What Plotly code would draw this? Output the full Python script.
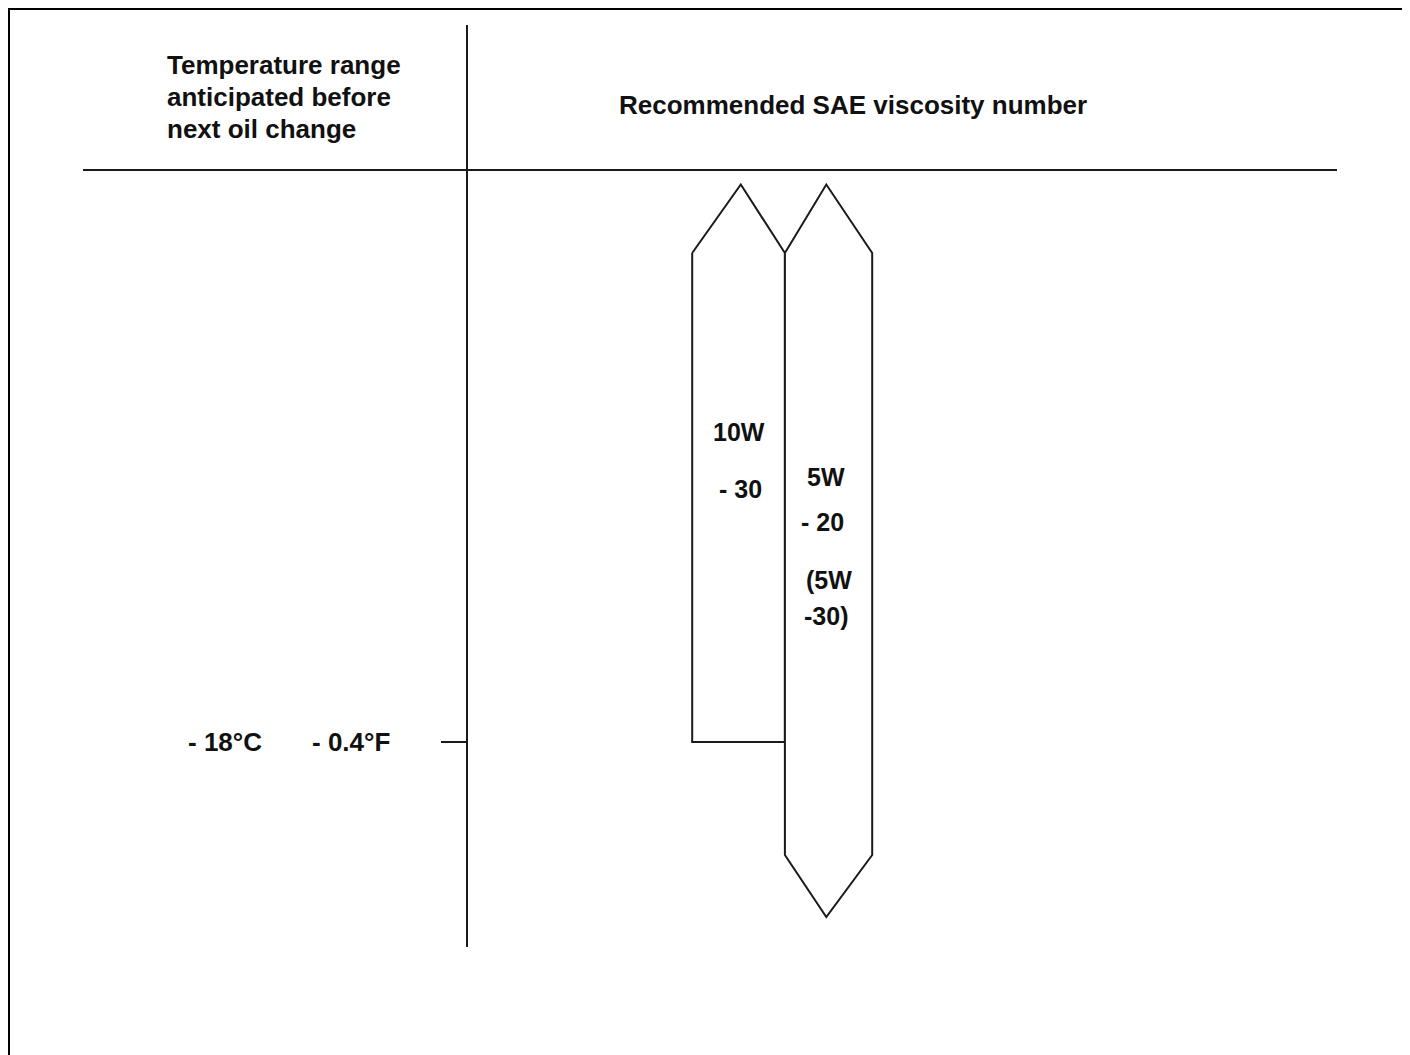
import plotly.graph_objects as go

# ---------------- data ----------------
grades = ["10W-30", "5W-20 (5W-30)"]
grade_label_lines = [["10W", "- 30"], ["5W", "- 20", "(5W", "-30)"]]
min_temp_c = [-18, None]      # None -> no lower limit (open arrow)
max_temp_c = [None, None]     # None -> no upper limit (open arrow)
tick_temps_c = [-18]
tick_temps_f = [-0.4]
tick_labels_c = ["- 18°C"]
tick_labels_f = ["- 0.4°F"]
header_left = ["Temperature range", "anticipated before", "next oil change"]
header_right = "Recommended SAE viscosity number"

# ---------------- layout helpers ----------------
OFF = 8  # page body margin
W, H = 1410 - OFF, 1055 - OFF
PX_PER_COL = 90.0
COL0_PX = 739.0 - OFF
PX_PER_DEG = 10.0
REF_T, REF_PX = -18.0, 742.0 - OFF

x_range = [-COL0_PX / PX_PER_COL, (W - COL0_PX) / PX_PER_COL]
y_range = [REF_T - (H - REF_PX) / PX_PER_DEG, REF_T + REF_PX / PX_PER_DEG]

OPEN_TOP = 37.75
OPEN_BOTTOM = -35.5
HEAD_TOP = 6.85
HEAD_BOTTOM = 6.2
EDGE_L = [-0.52, 0.51]
EDGE_R = [0.51, 1.48]
TIP_X = [0.02, 0.97]


def pxx(p):
    return (p - OFF) / W


def pxy(p):
    return 1 - (p - OFF) / H


def ty(p):
    return REF_T + (REF_PX + OFF - p) / PX_PER_DEG


LINE = "#1a1a1a"
TXT = "#111"
FONT = "Liberation Sans, Arial, Helvetica, sans-serif"

fig = go.Figure()

# ---------------- arrows ----------------
for i, g in enumerate(grades):
    l, r, tx = EDGE_L[i], EDGE_R[i], TIP_X[i]
    xs, ys = [], []
    lo, hi = min_temp_c[i], max_temp_c[i]
    if hi is None:
        xs += [l, tx, r]
        ys += [OPEN_TOP - HEAD_TOP, OPEN_TOP, OPEN_TOP - HEAD_TOP]
    else:
        xs += [l, r]
        ys += [hi, hi]
    if lo is None:
        xs += [r, tx, l]
        ys += [OPEN_BOTTOM + HEAD_BOTTOM, OPEN_BOTTOM, OPEN_BOTTOM + HEAD_BOTTOM]
    else:
        xs += [r, l]
        ys += [lo, lo]
    xs.append(xs[0])
    ys.append(ys[0])
    fig.add_trace(go.Scatter(
        x=xs, y=ys, mode="lines", fill="toself", fillcolor="white",
        line=dict(color=LINE, width=2), hoverinfo="skip", showlegend=False,
        name=g,
    ))

# grade labels
label_px = [[432, 489], [477, 522, 580, 616]]
label_dx = [[0, 0.02], [-0.03, -0.07, 0, -0.03]]
for i, lines in enumerate(grade_label_lines):
    for j, t in enumerate(lines):
        fig.add_annotation(
            x=i + label_dx[i][j], y=ty(label_px[i][j]),
            xref="x", yref="y", text=f"<b>{t}</b>", showarrow=False,
            font=dict(family=FONT, size=25, color=TXT),
            xanchor="center", yanchor="middle",
        )

# ---------------- frame & header lines ----------------
shapes = [
    dict(type="line", xref="paper", yref="paper", x0=pxx(8), x1=pxx(8), y0=pxy(7), y1=pxy(1070),
         line=dict(color="black", width=4)),
    dict(type="line", xref="paper", yref="paper", x0=pxx(7), x1=pxx(1406), y0=pxy(8), y1=pxy(8),
         line=dict(color="black", width=4)),
    dict(type="line", xref="paper", yref="paper", x0=pxx(1406), x1=pxx(1406), y0=pxy(7), y1=pxy(1070),
         line=dict(color="#888888", width=2)),
    dict(type="line", xref="paper", yref="paper", x0=pxx(83), x1=pxx(1337), y0=pxy(170), y1=pxy(170),
         line=dict(color=LINE, width=2)),
    dict(type="line", xref="paper", yref="paper", x0=pxx(467), x1=pxx(467), y0=pxy(25), y1=pxy(947),
         line=dict(color=LINE, width=2)),
]
for t in tick_temps_c:
    shapes.append(dict(type="line", xref="paper", yref="y", x0=pxx(441), x1=pxx(467), y0=t, y1=t,
                       line=dict(color=LINE, width=2)))
fig.update_layout(shapes=shapes)

# tick labels
for t, lc, lf in zip(tick_temps_c, tick_labels_c, tick_labels_f):
    fig.add_annotation(x=pxx(225), y=t, xref="paper", yref="y", text=f"<b>{lc}</b>", showarrow=False,
                       font=dict(family=FONT, size=26, color=TXT), xanchor="center", yanchor="middle")
    fig.add_annotation(x=pxx(351), y=t, xref="paper", yref="y", text=f"<b>{lf}</b>", showarrow=False,
                       font=dict(family=FONT, size=26, color=TXT), xanchor="center", yanchor="middle")

# headers
for k, t in enumerate(header_left):
    fig.add_annotation(x=pxx(165), y=pxy(65 + 32 * k), xref="paper", yref="paper", text=f"<b>{t}</b>",
                       showarrow=False, font=dict(family=FONT, size=26, color=TXT),
                       xanchor="left", yanchor="middle")
fig.add_annotation(x=pxx(853), y=pxy(105), xref="paper", yref="paper", text=f"<b>{header_right}</b>",
                   showarrow=False, font=dict(family=FONT, size=26, color=TXT),
                   xanchor="center", yanchor="middle")

fig.update_layout(
    width=W, height=H,
    margin=dict(l=0, r=0, t=0, b=0),
    paper_bgcolor="white", plot_bgcolor="white",
    xaxis=dict(range=x_range, visible=False, fixedrange=True),
    yaxis=dict(range=y_range, visible=False, fixedrange=True),
    showlegend=False,
)

fig.write_html("out.html")
